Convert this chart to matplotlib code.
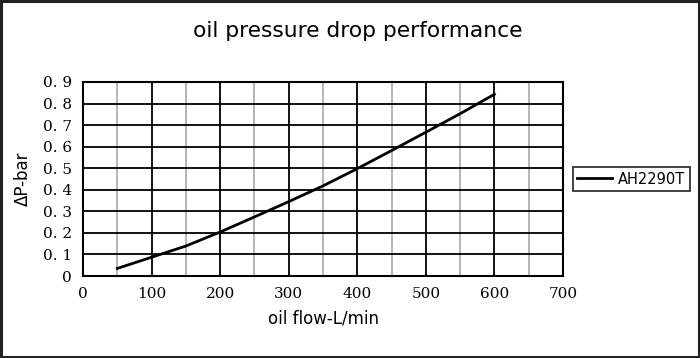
import matplotlib
matplotlib.use("Agg")
import matplotlib.pyplot as plt
from matplotlib.patches import Rectangle
from matplotlib.ticker import MultipleLocator

flow = [50, 100, 150, 200, 250, 300, 350, 400, 450, 500, 550, 600]
dp = [0.035, 0.087, 0.139, 0.204, 0.274, 0.345, 0.418, 0.498, 0.582, 0.667, 0.753, 0.843]
series_name = "AH2290T"
x_ticks = [0, 100, 200, 300, 400, 500, 600, 700]
y_ticks = [0, 0.1, 0.2, 0.3, 0.4, 0.5, 0.6, 0.7, 0.8, 0.9]
y_tick_labels = ["0", "0. 1", "0. 2", "0. 3", "0. 4", "0. 5", "0. 6", "0. 7", "0. 8", "0. 9"]

fig = plt.figure(figsize=(7, 3.58), dpi=100)
ax = fig.add_axes([83/700, 1-276/358, 480/700, 194/358])

ax.plot(flow, dp, color="black", lw=2, label=series_name, zorder=3)
ax.set_xlim(0, 700)
ax.set_ylim(0, 0.9)
ax.set_xticks(x_ticks)
ax.set_yticks(y_ticks)
ax.set_yticklabels(y_tick_labels)
ax.xaxis.set_minor_locator(MultipleLocator(50))
ax.grid(which="minor", axis="x", color="#b0b0b0", lw=1.3, zorder=1)
ax.grid(which="major", color="black", lw=1.3, zorder=2)
ax.tick_params(which="both", length=0, pad=8)
for lab in ax.get_xticklabels() + ax.get_yticklabels():
    lab.set_family("DejaVu Serif")
    lab.set_fontsize(11)
for s in ax.spines.values():
    s.set_linewidth(1.5)
    s.set_zorder(4)

ax.set_xlabel("oil flow-L/min", fontsize=12, labelpad=6, family="DejaVu Sans")
ax.set_ylabel("ΔP-bar", fontsize=12, labelpad=8, family="DejaVu Sans")
fig.text(358/700, 1-31/358, "oil pressure drop performance", ha="center", va="center",
         fontsize=15.7, family="DejaVu Sans")

leg = ax.legend(loc="center left", bbox_to_anchor=(573/700, 1-179/358), bbox_transform=fig.transFigure,
                frameon=True, fancybox=False, edgecolor="black", fontsize=10.5,
                handlelength=2.4, borderpad=0.3, handletextpad=0.4, borderaxespad=0)
leg.get_frame().set_linewidth(1.3)

fig.patches.append(Rectangle((0.002, 0.003), 0.996, 0.994, transform=fig.transFigure,
                             fill=False, edgecolor="#222222", lw=2.2))
fig.savefig("out.png", dpi=100)
